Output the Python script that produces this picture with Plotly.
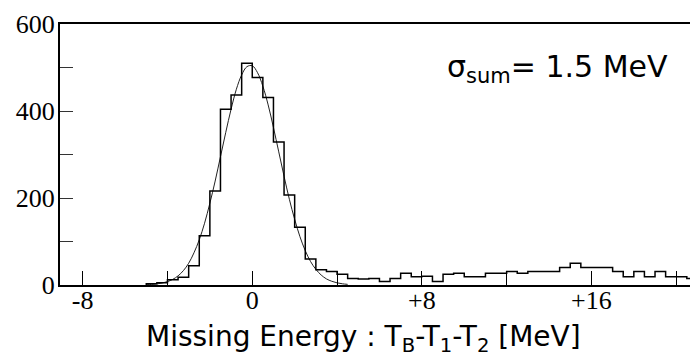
import plotly.graph_objects as go

# Histogram: left bin edges (MeV) and counts per 0.5 MeV bin
bin_left = [-5.0, -4.5, -4.0, -3.5, -3.0, -2.5, -2.0, -1.5, -1.0, -0.5,
            0.0, 0.5, 1.0, 1.5, 2.0, 2.5, 3.0, 3.5, 4.0, 4.5,
            5.0, 5.5, 6.0, 6.5, 7.0, 7.5, 8.0, 8.5, 9.0, 9.5,
            10.0, 10.5, 11.0, 11.5, 12.0, 12.5, 13.0, 13.5, 14.0, 14.5,
            15.0, 15.5, 16.0, 16.5, 17.0, 17.5, 18.0, 18.5, 19.0, 19.5,
            20.0, 20.5]
counts = [3, 5, 12, 18, 44, 113, 216, 404, 437, 510,
          477, 431, 329, 207, 133, 60, 35, 31, 25, 15,
          14, 15, 8, 15, 27, 19, 20, 8, 25, 27,
          19, 19, 27, 27, 31, 27, 31, 31, 31, 40,
          50, 40, 40, 40, 31, 19, 31, 19, 31, 19,
          19, 15]
bin_width = 0.5

# Fitted peak curve
fit_x = [-5.0, -4.75, -4.5, -4.25, -4.0, -3.75, -3.5, -3.25, -3.0, -2.75,
         -2.5, -2.25, -2.0, -1.75, -1.5, -1.25, -1.0, -0.75, -0.5, -0.25,
         0.0, 0.25, 0.5, 0.75, 1.0, 1.25, 1.5, 1.75, 2.0, 2.25,
         2.5, 2.75, 3.0, 3.25, 3.5, 3.75, 4.0, 4.25, 4.5]
fit_y = [0.7, 1.3, 2.5, 4.5, 7.8, 13, 21, 33, 50, 74,
         104, 142, 188, 239, 295, 351, 404, 450, 483, 502,
         504, 488, 457, 414, 362, 306, 250, 197, 151, 111,
         79, 54, 36, 23, 14, 8.6, 5.0, 2.8, 1.5]

x_tickvals = [-8, -4, 0, 4, 8, 12, 16, 20]
x_ticktext = ["-8", "", "0", "", "+8", "", "+16", ""]
y_tickvals = [0, 100, 200, 300, 400, 500, 600]
y_ticktext = ["0", "", "200", "", "400", "", "600"]

hist_x = [bin_left[0]] + bin_left + [bin_left[-1] + bin_width]
hist_y = [0] + counts + [counts[-1]]

fig = go.Figure()
fig.add_trace(go.Scatter(x=fit_x, y=fit_y, mode="lines", line_shape="spline",
                         line=dict(color="#222222", width=1), hoverinfo="skip"))
fig.add_trace(go.Scatter(x=hist_x, y=hist_y, mode="lines", line_shape="hv",
                         line=dict(color="black", width=1.5), hoverinfo="skip"))

fig.update_layout(
    width=690, height=356,
    margin=dict(l=60, r=0, t=24, b=71),
    paper_bgcolor="white", plot_bgcolor="white",
    showlegend=False,
    xaxis=dict(range=[-9.07, 20.65], showgrid=False, zeroline=False,
               showline=True, linecolor="black", linewidth=2, mirror=True,
               ticks="inside", ticklen=14, tickwidth=1, tickcolor="black",
               tickvals=x_tickvals, ticktext=x_ticktext, ticklabelstandoff=-9,
               tickfont=dict(family="Liberation Serif", size=26, color="black")),
    yaxis=dict(range=[0, 600], showgrid=False, zeroline=False,
               showline=True, linecolor="black", linewidth=2,
               ticks="inside", ticklen=13, tickwidth=1, tickcolor="#333333",
               tickvals=y_tickvals, ticktext=y_ticktext, ticklabelstandoff=-2,
               tickfont=dict(family="Liberation Serif", size=26, color="black")),
    annotations=[
        dict(text="σ<sub>sum</sub>= 1.5 MeV", xref="paper", yref="paper",
             x=0.611, y=0.83, xanchor="left", yanchor="middle", showarrow=False,
             font=dict(family="DejaVu Sans", size=30, color="black")),
        dict(text="Missing Energy : T<sub>B</sub>-T<sub>1</sub>-T<sub>2</sub> [MeV]",
             xref="paper", yref="paper", x=0.481, y=-0.205,
             xanchor="center", yanchor="middle", showarrow=False,
             font=dict(family="DejaVu Sans", size=28, color="black")),
    ],
)

fig.write_html("out.html")
